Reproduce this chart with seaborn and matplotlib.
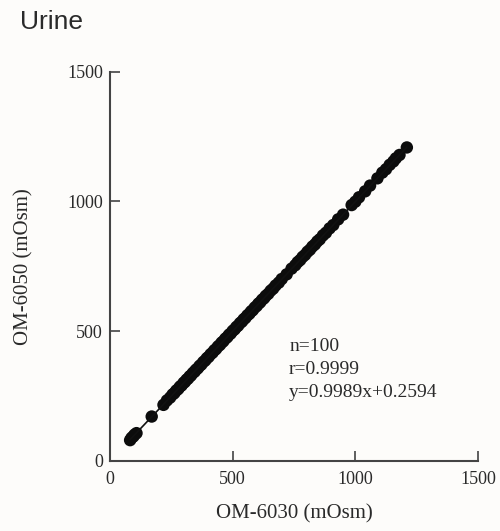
import numpy as np
import pandas as pd
import matplotlib
matplotlib.use("Agg")
import matplotlib.pyplot as plt
import seaborn as sns

# Data
om6030 = [82, 88, 95, 100, 108, 170, 218, 232, 245, 255,
          262, 270, 278, 285, 292, 300, 305, 312, 318, 325,
          330, 338, 345, 350, 358, 365, 372, 380, 388, 395,
          402, 410, 418, 425, 432, 440, 448, 455, 462, 470,
          478, 485, 492, 500, 508, 515, 522, 530, 538, 545,
          552, 560, 568, 575, 582, 590, 598, 605, 612, 620,
          628, 635, 645, 655, 665, 675, 688, 700, 720, 740,
          755, 765, 775, 785, 795, 805, 815, 825, 835, 845,
          855, 868, 880, 895, 910, 930, 950, 985, 1000, 1015,
          1040, 1060, 1090, 1110, 1125, 1140, 1155, 1165, 1180, 1210]
om6050 = [80, 89, 94, 101, 107, 171, 216, 233, 244, 256,
          261, 271, 277, 286, 291, 301, 304, 313, 317, 326,
          329, 339, 344, 351, 357, 366, 371, 381, 387, 396,
          401, 411, 417, 426, 431, 441, 447, 456, 461, 471,
          477, 486, 491, 501, 507, 516, 521, 531, 537, 546,
          551, 561, 567, 576, 581, 591, 597, 606, 611, 621,
          627, 636, 644, 656, 664, 676, 687, 701, 719, 741,
          754, 766, 774, 786, 794, 806, 814, 826, 834, 846,
          854, 869, 879, 896, 909, 931, 949, 986, 999, 1016,
          1039, 1061, 1089, 1111, 1124, 1141, 1154, 1166, 1179, 1208]
x_ticks = [0, 500, 1000, 1500]
y_ticks = [0, 500, 1000, 1500]
stats_text = ["n=100", "r=0.9999", "y=0.9989x+0.2594"]
slope, intercept = 0.9989, 0.2594

df = pd.DataFrame({"OM-6030": om6030, "OM-6050": om6050})

sns.set_theme(style="white")
plt.rcParams["font.family"] = ["Liberation Serif", "DejaVu Serif"]

fig = plt.figure(figsize=(5.0, 5.31), dpi=100, facecolor="#fdfcfa")
ax = fig.add_axes([0.22, 0.132, 0.736, 0.733])
ax.set_facecolor("#fdfcfa")

fit_x = np.array([min(om6030), max(om6030)])
sns.lineplot(x=fit_x, y=slope * fit_x + intercept, ax=ax, color="#111111", linewidth=1.2)
sns.scatterplot(data=df, x="OM-6030", y="OM-6050", ax=ax, color="#0c0c0c",
                s=80, edgecolor="none", linewidth=0)

ax.set_xlim(0, 1500)
ax.set_ylim(0, 1500)
ax.set_xticks(x_ticks)
ax.set_yticks(y_ticks)
ax.set_xticklabels([str(t) for t in x_ticks], fontsize=13, color="#2a2a2a")
ax.set_yticklabels([str(t) for t in y_ticks], fontsize=13, color="#2a2a2a")
ax.tick_params(direction="in", length=7, width=1.2, color="#444444")
ax.tick_params(axis="y", left=True, pad=5)
ax.tick_params(axis="x", bottom=True, pad=7)
for side in ["top", "right"]:
    ax.spines[side].set_visible(False)
for side in ["left", "bottom"]:
    ax.spines[side].set_color("#444444")
    ax.spines[side].set_linewidth(1.5)

ax.set_xlabel("OM-6030 (mOsm)", fontsize=15, color="#2a2a2a", labelpad=12)
ax.set_ylabel("OM-6050 (mOsm)", fontsize=15, color="#2a2a2a", labelpad=24)

for i, t in enumerate(stats_text):
    ax.text(730, 440 - i * 88, t, fontsize=14, color="#2a2a2a", va="center", ha="left")

fig.text(0.04, 0.958, "Urine", fontsize=19, family=["Liberation Sans", "DejaVu Sans"],
         color="#2a2a2a", va="center", ha="left")

fig.savefig("out.png", dpi=100, facecolor=fig.get_facecolor())
